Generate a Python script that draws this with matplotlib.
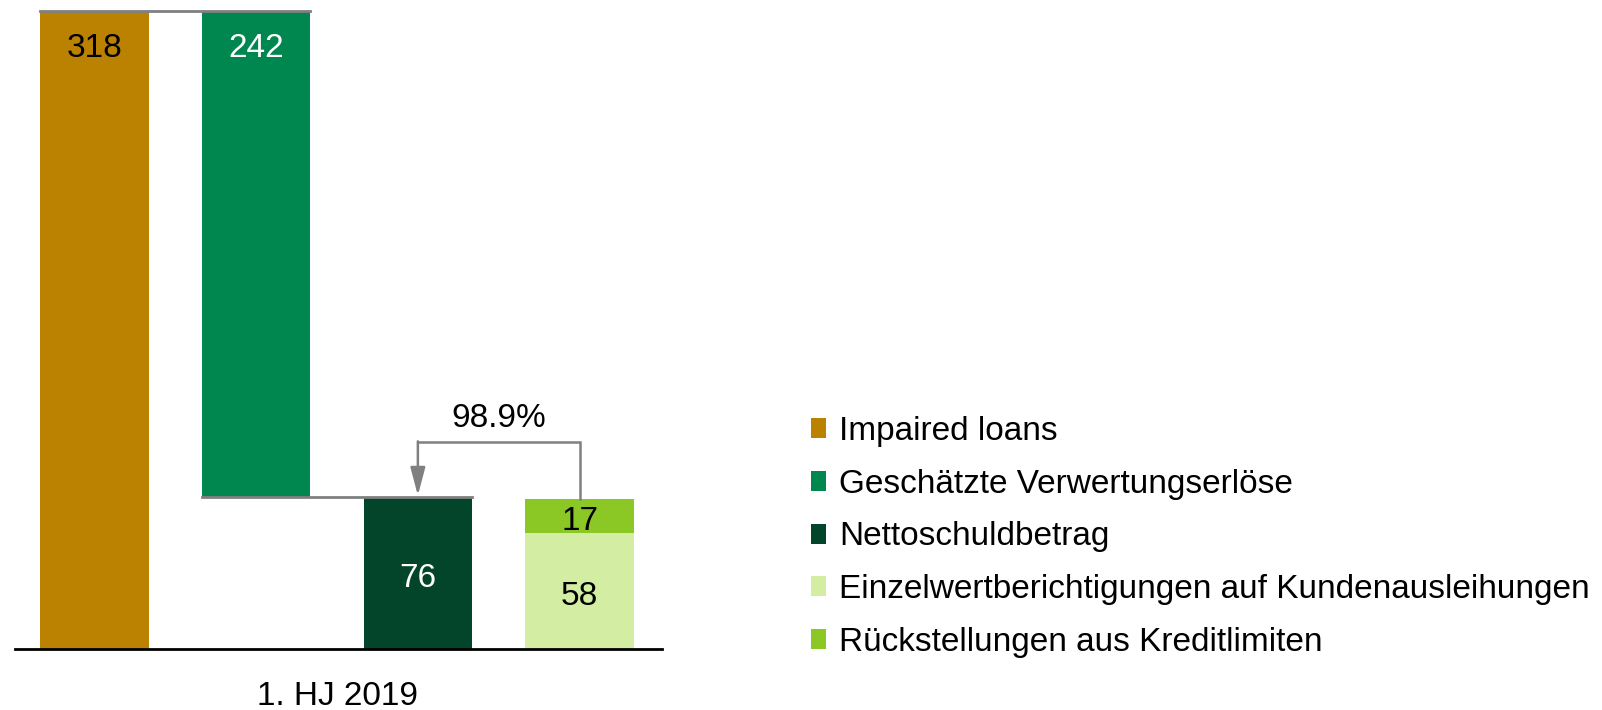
import matplotlib
matplotlib.use("Agg")
import matplotlib.pyplot as plt

plt.rcParams['font.family'] = ['Liberation Sans', 'DejaVu Sans']

categories = ["Impaired loans", "Geschätzte Verwertungserlöse", "Nettoschuldbetrag",
              "Einzelwertberichtigungen auf Kundenausleihungen",
              "Rückstellungen aus Kreditlimiten"]
colors = ["#BA8200", "#00874F", "#03452A", "#D3EDA3", "#8BC826"]
period = "1. HJ 2019"
impaired = 318
recoveries = 242
net_debt = 76
specific_allow = 58
provisions = 17
coverage = "98.9%"

fig = plt.figure(figsize=(16.02, 7.10), dpi=100)
ax = fig.add_axes([15.3 / 1602, 61 / 710, (662 - 15.3) / 1602, 638 / 710])

w = 0.67
b1 = ax.bar(0, impaired, w, color=colors[0], label=categories[0])
b2 = ax.bar(1, recoveries, w, bottom=impaired - recoveries, color=colors[1], label=categories[1])
b3 = ax.bar(2, net_debt, w, color=colors[2], label=categories[2])
b4 = ax.bar(3, specific_allow, w, color=colors[3], label=categories[3])
b5 = ax.bar(3, provisions, w, bottom=specific_allow, color=colors[4], label=categories[4])

# connector lines
grey = "#808080"
ax.plot([0 - w / 2, 1 + w / 2], [impaired, impaired], color=grey, lw=2, clip_on=False, zorder=3)
ax.plot([1 - w / 2, 2 + w / 2], [net_debt, net_debt], color=grey, lw=2, clip_on=False, zorder=3)

# coverage arrow
top4 = specific_allow + provisions
ax.plot([3, 3, 2], [top4, 103, 103], color=grey, lw=1.8, solid_joinstyle='miter')
ax.annotate("", xy=(2, net_debt + 0.5), xytext=(2, 103.5),
            arrowprops=dict(arrowstyle="-|>,head_length=1.7,head_width=0.45",
                            color=grey, lw=1.8, shrinkA=0, shrinkB=0))
ax.text(2.5, 115, coverage, ha='center', va='center', fontsize=24)

# value labels
fs = 24
dy = 3
ax.text(0, impaired - 17 - 1.5, str(impaired), ha='center', va='center', fontsize=fs, color='black')
ax.text(1, impaired - 17 - 1.5, str(recoveries), ha='center', va='center', fontsize=fs, color='white')
ax.text(2, net_debt / 2 - dy, str(net_debt), ha='center', va='center', fontsize=fs, color='white')
ax.text(3, specific_allow / 2 - dy, str(specific_allow), ha='center', va='center', fontsize=fs, color='black')
ax.text(3, specific_allow + provisions / 2 - dy, str(provisions), ha='center', va='center',
        fontsize=fs, color='black')

ax.set_xlim(-0.49, 3.51)
ax.set_ylim(0, impaired)
ax.set_yticks([])
ax.set_xticks([1.5])
ax.set_xticklabels([period], fontsize=fs)
ax.tick_params(axis='x', length=0, pad=23)
for s in ['top', 'left', 'right']:
    ax.spines[s].set_visible(False)
ax.spines['bottom'].set_color('black')
ax.spines['bottom'].set_linewidth(2)

fig.legend(handles=[b1, b2, b3, b4, b5], loc='center left',
           bbox_to_anchor=(811 / 1602, (710 - 537) / 710), frameon=False,
           fontsize=fs, handlelength=0.45, handleheight=0.55, handletextpad=0.4,
           labelspacing=0.65, borderpad=0, borderaxespad=0)

fig.savefig("out.png", dpi=100)
